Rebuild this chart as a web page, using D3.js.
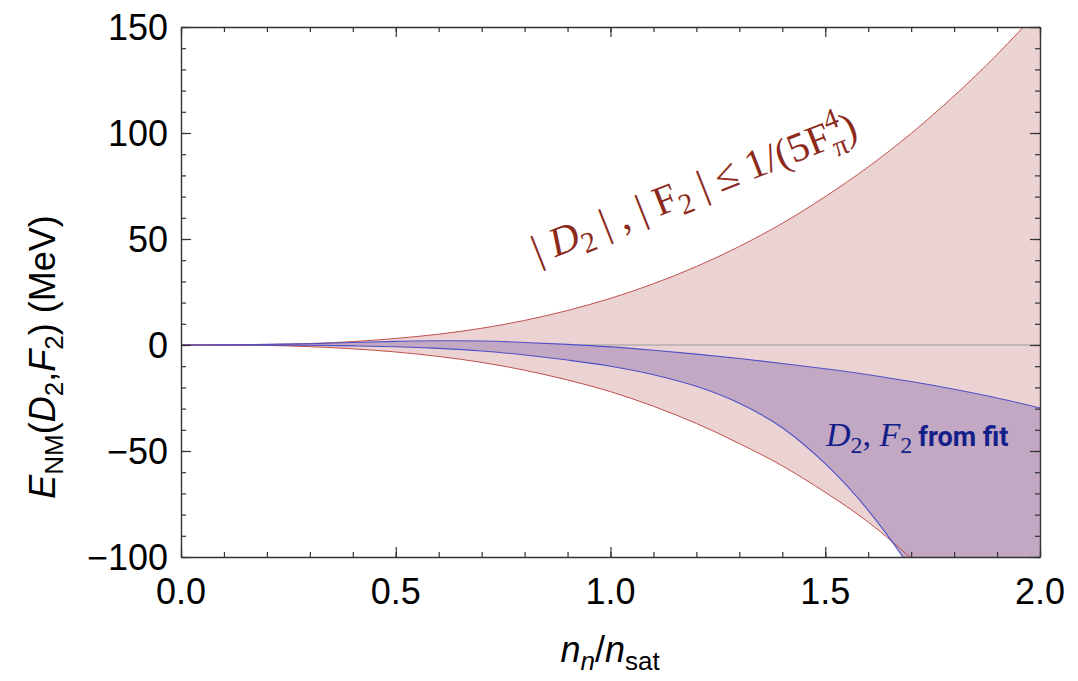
<!DOCTYPE html>
<html>
<head>
<meta charset="utf-8">
<script src="https://cdn.jsdelivr.net/npm/d3@7"></script>
<style>
  body { margin: 0; background: #fff; }
  svg { display: block; }
</style>
</head>
<body>
<div id="chart"></div>
<script>
// density grid n_n/n_sat
const xs = [0, 0.1, 0.2, 0.3, 0.4, 0.5, 0.6, 0.7, 0.8, 0.9, 1.0,
            1.1, 1.2, 1.3, 1.4, 1.5, 1.6, 1.7, 1.8, 1.9, 2.0]

// band from |D2|,|F2| <= 1/(5 F_pi^4)
const redUpper = [0, 0.03, 0.2, 0.7, 1.6, 3.1, 5.1, 7.9, 11.6, 16.3, 22,
                  28.9, 37, 46.5, 57.4, 70, 84, 99.8, 117.5, 137, 158.6]
const redLower = [0, -0.03, -0.2, -0.8, -1.8, -3.3, -5.4, -8.2, -11.9, -16.5, -22,
                  -28.9, -37, -46.5, -57, -69.5, -83.5, -100.5, -118, -137, -159]

// band from fitted D2,F2
const blueUpper = [0, 0.05, 0.3, 0.6, 1.2, 1.7, 2.0, 1.9, 1.2, 0.3, -0.9,
                   -2.5, -4.3, -6.4, -8.7, -11.2, -14, -17.2, -20.9, -25, -29.7]
const blueLower = [0, -0.01, -0.05, -0.15, -0.4, -0.8, -1.6, -2.8, -4.7, -7.1, -10,
                   -14, -19.5, -27.5, -39, -56, -78, -106, -142, -187, -242]

const xTicks = [0, 0.5, 1.0, 1.5, 2.0]
const yTicks = [-100, -50, 0, 50, 100, 150]

const WIDTH = 1078
const HEIGHT = 681
const PLOT = {LEFT: 181, RIGHT: 1040, TOP: 27, BOTTOM: 557}

const svg = d3.select("#chart").append("svg")
    .attr("width", WIDTH)
    .attr("height", HEIGHT)

const xScale = d3.scaleLinear().domain([0, 2]).range([PLOT.LEFT, PLOT.RIGHT])
const yScale = d3.scaleLinear().domain([-100, 150]).range([PLOT.BOTTOM, PLOT.TOP])

svg.append("clipPath").attr("id", "plotclip")
    .append("rect")
    .attr("x", PLOT.LEFT).attr("y", PLOT.TOP)
    .attr("width", PLOT.RIGHT - PLOT.LEFT).attr("height", PLOT.BOTTOM - PLOT.TOP)

const g = svg.append("g").attr("clip-path", "url(#plotclip)")

// build band rows from the arrays
const redRows = xs.map((x, i) => ({x: x, lo: redLower[i], hi: redUpper[i]}))
const blueRows = xs.map((x, i) => ({x: x, lo: blueLower[i], hi: blueUpper[i]}))

const area = d3.area()
    .x(d => xScale(d.x))
    .y0(d => yScale(d.lo))
    .y1(d => yScale(d.hi))
    .curve(d3.curveMonotoneX)

const line = key => d3.line()
    .x(d => xScale(d.x))
    .y(d => yScale(d[key]))
    .curve(d3.curveMonotoneX)

// red band
g.append("path").datum(redRows)
    .attr("d", area)
    .attr("fill", "#ebd3d3")

// zero line
g.append("line")
    .attr("x1", PLOT.LEFT).attr("x2", PLOT.RIGHT)
    .attr("y1", yScale(0)).attr("y2", yScale(0))
    .attr("stroke", "#9a9a9a").attr("stroke-width", 1.2)

// blue band over it
g.append("path").datum(blueRows)
    .attr("d", area)
    .attr("fill", "#c2a8c3")

for (const k of ["lo", "hi"]) {
    g.append("path").datum(redRows)
        .attr("d", line(k))
        .attr("fill", "none").attr("stroke", "#c0504d").attr("stroke-width", 1)
    g.append("path").datum(blueRows)
        .attr("d", line(k))
        .attr("fill", "none").attr("stroke", "#5050c8").attr("stroke-width", 1.1)
}

// frame with inward ticks on all sides
const frameCol = "#333"
const axes = [
    {axis: d3.axisBottom(xScale), t: "translate(0," + PLOT.BOTTOM + ")", dir: "x"},
    {axis: d3.axisTop(xScale), t: "translate(0," + PLOT.TOP + ")", dir: "x"},
    {axis: d3.axisLeft(yScale), t: "translate(" + PLOT.LEFT + ",0)", dir: "y"},
    {axis: d3.axisRight(yScale), t: "translate(" + PLOT.RIGHT + ",0)", dir: "y"}
]
for (const a of axes) {
    const minor = a.dir == "x" ? d3.range(0, 2.0001, 0.1) : d3.range(-100, 150.001, 10)
    const gm = svg.append("g").attr("transform", a.t)
        .call(a.axis.tickValues(minor).tickSize(-5).tickSizeOuter(0).tickFormat(""))
    gm.select(".domain").attr("stroke", frameCol).attr("stroke-width", 1.4)
    gm.selectAll(".tick line").attr("stroke", frameCol).attr("stroke-width", 1.2)
    const major = a.dir == "x" ? xTicks : yTicks
    const gM = svg.append("g").attr("transform", a.t)
        .call(a.axis.tickValues(major).tickSize(-10).tickSizeOuter(0).tickFormat(""))
    gM.select(".domain").remove()
    gM.selectAll(".tick line").attr("stroke", frameCol).attr("stroke-width", 1.2)
}

// tick labels
const labFont = "'Liberation Sans', Arial, sans-serif"
svg.append("g").selectAll("text").data(xTicks).enter().append("text")
    .attr("x", d => xScale(d))
    .attr("y", PLOT.BOTTOM + 47)
    .attr("text-anchor", "middle")
    .style("font", "36px " + labFont)
    .text(d => d3.format(".1f")(d))

svg.append("g").selectAll("text").data(yTicks).enter().append("text")
    .attr("x", PLOT.LEFT - 13)
    .attr("y", d => yScale(d) + 13)
    .attr("text-anchor", "end")
    .style("font", "36px " + labFont)
    .text(d => d < 0 ? "\u2212" + Math.abs(d) : d)

// x axis title
const xt = svg.append("text")
    .attr("x", 610).attr("y", 662)
    .attr("text-anchor", "middle")
    .style("font", "36px " + labFont)
xt.append("tspan").style("font-style", "italic").text("n")
xt.append("tspan").style("font-style", "italic").style("font-size", "26px").attr("dy", 8).text("n")
xt.append("tspan").attr("dy", -8).text("/")
xt.append("tspan").style("font-style", "italic").text("n")
xt.append("tspan").style("font-size", "26px").attr("dy", 8).text("sat")

// y axis title
const yt = svg.append("text")
    .attr("transform", "translate(55,357) rotate(-90)")
    .attr("text-anchor", "middle")
    .style("font", "36px " + labFont)
yt.append("tspan").style("font-style", "italic").text("E")
yt.append("tspan").style("font-size", "26px").attr("dy", 8).text("NM")
yt.append("tspan").attr("dy", -8).text("(")
yt.append("tspan").style("font-style", "italic").text("D")
yt.append("tspan").style("font-size", "26px").attr("dy", 8).text("2")
yt.append("tspan").attr("dy", -8).text(",")
yt.append("tspan").style("font-style", "italic").text("F")
yt.append("tspan").style("font-size", "26px").attr("dy", 8).text("2")
yt.append("tspan").attr("dy", -8).text(") (MeV)")

// band labels
const serif = "'Liberation Serif', 'DejaVu Serif', serif"
const rl = svg.append("text")
    .attr("transform", "translate(538,264) rotate(-21.5)")
    .attr("fill", "#8c2a1c")
    .style("font", "41px " + serif)
rl.append("tspan").text("| ")
rl.append("tspan").style("font-style", "italic").text("D")
rl.append("tspan").style("font-size", "29px").attr("dy", 8).text("2")
rl.append("tspan").attr("dy", -8).text(" | , | F")
rl.append("tspan").style("font-size", "29px").attr("dy", 8).text("2")
rl.append("tspan").attr("dy", -8).text(" | \u2264 1/(5F")
rl.append("tspan").style("font-size", "29px").attr("dy", -18).text("4")
rl.append("tspan").style("font-size", "29px").attr("dx", -15).attr("dy", 28).text("\u03c0")
rl.append("tspan").attr("dy", -10).text(")")

const bl = svg.append("text")
    .attr("x", 826).attr("y", 446)
    .attr("fill", "#14208a")
    .style("font", "34px " + serif)
bl.append("tspan").style("font-style", "italic").text("D")
bl.append("tspan").style("font-size", "24px").attr("dy", 7).text("2")
bl.append("tspan").attr("dy", -7).text(", ")
bl.append("tspan").style("font-style", "italic").text("F")
bl.append("tspan").style("font-size", "24px").attr("dy", 7).text("2")
bl.append("tspan").attr("dy", -7).attr("dx", 6)
    .style("font", "bold 27px 'Liberation Sans Narrow', 'Roboto', sans-serif")
    .text("from fit")
</script>
</body>
</html>
